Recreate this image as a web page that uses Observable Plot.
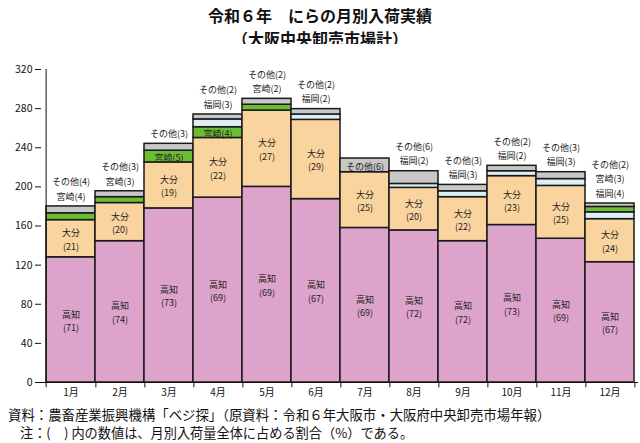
<!DOCTYPE html>
<html>
<head>
<meta charset="utf-8">
<script src="https://cdn.jsdelivr.net/npm/d3@7"></script>
<script src="https://cdn.jsdelivr.net/npm/@observablehq/plot@0.6"></script>
<style>
  html, body { margin: 0; padding: 0; background: #fff; }
  body { width: 640px; height: 443px; position: relative; overflow: hidden; font-family: 'Noto Sans CJK JP', sans-serif; color: #111; }
  .abs { position: absolute; white-space: nowrap; }
  #chart { position: absolute; left: 0; top: 44px; }
</style>
</head>
<body>
<div class="abs" style="top:4px;left:0;width:640px;text-align:center;font-weight:bold;font-size:16px;line-height:23px;">令和６年　にらの月別入荷実績</div>
<div class="abs" style="top:27px;left:0;width:640px;text-align:center;font-weight:bold;font-size:16px;line-height:23px;">（大阪中央卸売市場計）</div>
<div class="abs" style="top:45px;left:9px;font-size:10px;line-height:12px;">(トン)</div>
<div id="chart"></div>
<div class="abs" style="top:406px;left:8px;font-size:13.4px;line-height:16px;">資料：農畜産業振興機構「ベジ探」（原資料：令和６年大阪市・大阪府中央卸売市場年報）</div>
<div class="abs" style="top:425px;left:20px;font-size:13.2px;line-height:16px;">注：(　) 内の数値は、月別入荷量全体に占める割合（%）である。</div>
<script>
const months = ["1月","2月","3月","4月","5月","6月","7月","8月","9月","10月","11月","12月"];
const seriesNames = ["高知","大分","宮崎","福岡","その他"];
// tonnes
const kochi    = [128, 144.5, 178, 189, 200, 187.5, 158, 155.5, 144.5, 161, 147, 123];
const oita     = [38, 39, 47, 61, 78, 81, 57, 43.5, 45, 50, 54, 44];
const miyazaki = [7, 6, 12, 11, 6, 0, 0, 0, 0, 0, 0, 5.5];
const fukuoka  = [0, 0, 0, 8, 0, 5.5, 0, 4, 6, 5, 7, 7];
const other    = [7, 6, 7, 5, 6, 5.5, 14, 13, 6.5, 5.5, 7, 3.5];
// percentage labels
const pctKochi    = [71, 74, 73, 69, 69, 67, 69, 72, 72, 73, 69, 67];
const pctOita     = [21, 20, 19, 22, 27, 29, 25, 20, 22, 23, 25, 24];
const pctMiyazaki = [4, 3, 5, 4, 2, null, null, null, null, null, null, 3];
const pctFukuoka  = [null, null, null, 3, null, 2, null, 2, 3, 2, 3, 4];
const pctOther    = [4, 3, 3, 2, 2, 2, 6, 6, 3, 2, 3, 2];
const yTicks = [0, 40, 80, 120, 160, 200, 240, 280, 320];

const colors = ["#DDA3CB", "#FAD49E", "#6ABD35", "#DDEFF5", "#C8C8C8"];
const vals = {"高知": kochi, "大分": oita, "宮崎": miyazaki, "福岡": fukuoka, "その他": other};
const pcts = {"高知": pctKochi, "大分": pctOita, "宮崎": pctMiyazaki, "福岡": pctFukuoka, "その他": pctOther};
const altOrderMonths = ["12月"];
const altOrder = ["高知","大分","福岡","宮崎","その他"];
const insideMinor = ["3月|宮崎", "4月|宮崎", "7月|その他"];

const segs = [];
const totals = [];
months.forEach((m, i) => {
  const order = altOrderMonths.includes(m) ? altOrder : seriesNames;
  let cum = 0;
  for (const s of order) {
    const v = vals[s][i];
    if (!v) continue;
    segs.push({month: m, series: s, y1: cum, y2: cum + v, pct: pcts[s][i]});
    cum += v;
  }
  totals.push(cum);
});

const majorLabels = segs.filter(d => d.series === "高知" || d.series === "大分")
  .map(d => ({month: d.month, y: (d.y1 + d.y2) / 2, text: `${d.series}\n(${d.pct})`}));
const innerMinor = segs.filter(d => insideMinor.includes(`${d.month}|${d.series}`))
  .map(d => ({month: d.month, y: (d.y1 + d.y2) / 2, text: `${d.series}(${d.pct})`}));
const outer = [];
months.forEach((m, i) => {
  const list = segs.filter(d => d.month === m && !["高知","大分"].includes(d.series)
      && d.pct != null && !insideMinor.includes(`${m}|${d.series}`)).reverse();
  list.forEach((d, k) => outer.push({month: m, y: totals[i], level: list.length - 1 - k, text: `${d.series}(${d.pct})`}));
});

const W = 640, mL = 41, mR = 2;
const bw = (W - mL - mR) / months.length;
const txt = {fontSize: 9, fill: "#222", lineHeight: 1.47};

const chart = Plot.plot({
  width: W, height: 356,
  marginLeft: mL, marginRight: mR, marginTop: 25, marginBottom: 18,
  style: {fontFamily: "'Noto Sans CJK JP', sans-serif", fontSize: "10px", color: "#111", background: "white"},
  x: {domain: months, padding: 0, label: null},
  y: {domain: [0, 320], label: null},
  color: {domain: seriesNames, range: colors},
  marks: [
    Plot.barY(segs, {x: "month", y1: "y1", y2: "y2", fill: "series", stroke: "#1a1a1a", strokeWidth: 1.5}),
    Plot.ruleY([0], {stroke: "#111"}),
    Plot.ruleX([months[0]], {x: d => d, y1: -5.5, y2: 320, dx: -bw / 2, stroke: "#111"}),
    Plot.ruleX(months, {x: d => d, y1: 0, y2: -5.5, dx: bw / 2, stroke: "#111"}),
    Plot.axisY({ticks: yTicks, tickSize: 6, tickPadding: 3, fontSize: 10.5, label: null}),
    Plot.axisX({tickSize: 0, tickPadding: 6, fontSize: 10, label: null}),
    Plot.text(majorLabels, {x: "month", y: "y", text: "text", ...txt}),
    Plot.text(innerMinor, {x: "month", y: "y", text: "text", ...txt}),
    ...[0, 1, 2].map(L => Plot.text(outer.filter(d => d.level === L),
      {x: "month", y: "y", text: "text", dy: -11 - L * 14.5, ...txt}))
  ]
});
document.getElementById("chart").appendChild(chart);
</script>
</body>
</html>
